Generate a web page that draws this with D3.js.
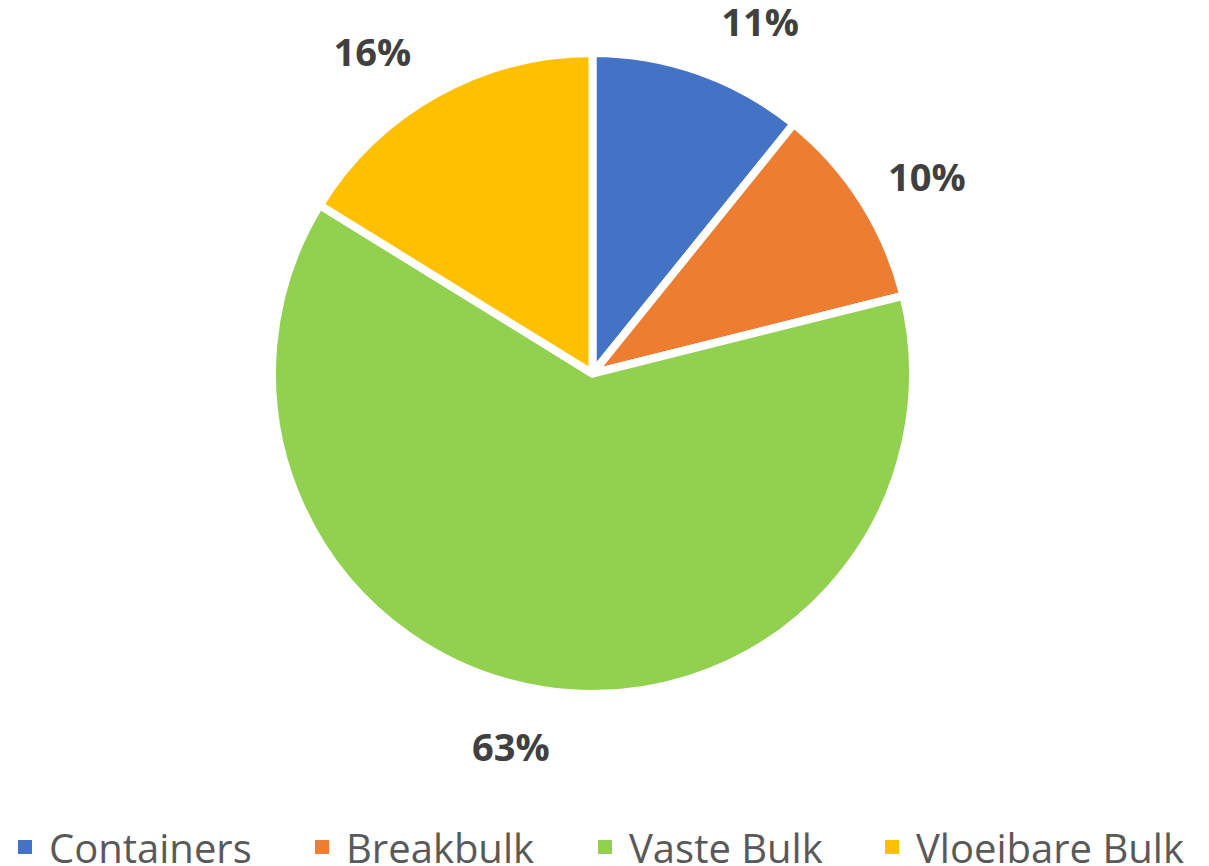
<!DOCTYPE html>
<html>
<head>
<meta charset="utf-8">
<script src="https://cdn.jsdelivr.net/npm/d3@7"></script>
<style>
  body { margin: 0; background: #fff; }
</style>
</head>
<body>
<div id="piechart"></div>
<script>
// Data
const categories = ["Containers", "Breakbulk", "Vaste Bulk", "Vloeibare Bulk"];
const values = [10.8, 10.3, 62.7, 16.2];
const labels = ["11%", "10%", "63%", "16%"];
const colors = ["#4472C4", "#ED7D31", "#92D050", "#FFC000"];

// Layout
const width = 1209, height = 866;
const cx = 592.5, cy = 373.5, radius = 320.5;
const labelRadius = 386;
// small angle nudges (degrees) for the outside labels
const labelNudge = [6.3, 2.6, 3.4, -5.6];

const svg = d3.select("#piechart")
  .append("svg")
    .attr("width", width)
    .attr("height", height);

const g = svg.append("g")
    .attr("transform", `translate(${cx},${cy})`);

const pie = d3.pie().sort(null).value(d => d);
const arcs = pie(values);

const arc = d3.arc().innerRadius(0).outerRadius(radius);

// Slices
g.selectAll("path")
  .data(arcs)
  .join("path")
    .attr("d", arc)
    .attr("fill", (d, i) => colors[i])
    .attr("stroke", "#fff")
    .attr("stroke-width", 8)
    .attr("stroke-linejoin", "round");

// Percentage labels
g.selectAll("text.label")
  .data(arcs)
  .join("text")
    .attr("class", "label")
    .attr("x", (d, i) => {
      const a = (d.startAngle + d.endAngle) / 2 + labelNudge[i] * Math.PI / 180;
      return labelRadius * Math.sin(a);
    })
    .attr("y", (d, i) => {
      const a = (d.startAngle + d.endAngle) / 2 + labelNudge[i] * Math.PI / 180;
      return -labelRadius * Math.cos(a);
    })
    .attr("dy", -5)
    .attr("text-anchor", "middle")
    .attr("dominant-baseline", "central")
    .style("font-family", "'Open Sans', sans-serif")
    .style("font-weight", "bold")
    .style("font-size", "38px")
    .style("fill", "#404040")
    .text((d, i) => labels[i]);

// Legend
const legendX = [18, 315, 598, 885];
const legend = svg.append("g")
    .attr("transform", "translate(0,847)");

const items = legend.selectAll("g")
  .data(categories)
  .join("g")
    .attr("transform", (d, i) => `translate(${legendX[i]},0)`);

items.append("rect")
    .attr("x", 0)
    .attr("y", -7)
    .attr("width", 14)
    .attr("height", 14)
    .attr("fill", (d, i) => colors[i]);

items.append("text")
    .attr("x", 31)
    .attr("y", 0)
    .attr("dominant-baseline", "central")
    .style("font-family", "'Open Sans', sans-serif")
    .style("font-size", "40px")
    .style("fill", "#595959")
    .text(d => d);
</script>
</body>
</html>
